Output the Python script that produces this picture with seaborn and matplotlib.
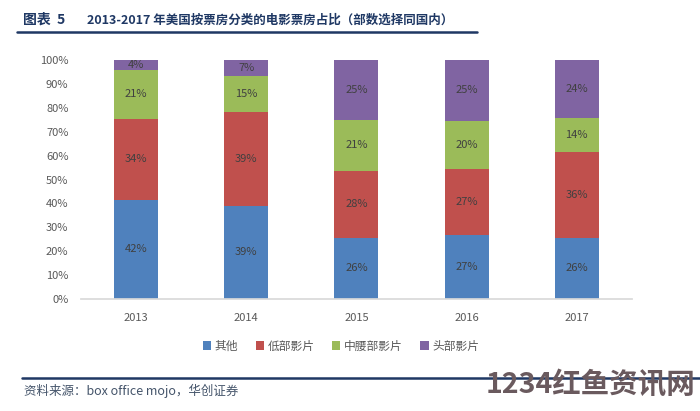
import numpy as np
import pandas as pd
import matplotlib
matplotlib.use("Agg")
import matplotlib.pyplot as plt
import seaborn as sns
from matplotlib.patches import Patch
from matplotlib.lines import Line2D

# data (percent of box office)
years = ["2013", "2014", "2015", "2016", "2017"]
other = [41.6, 39.0, 25.6, 26.8, 25.7]       # 其他
low = [33.8, 39.2, 28.1, 27.4, 35.8]         # 低部影片
mid = [20.6, 15.2, 21.2, 20.4, 14.4]         # 中腰部影片
top = [4.0, 6.6, 25.1, 25.4, 24.1]           # 头部影片
series_names = ["其他", "低部影片", "中腰部影片", "头部影片"]
colors = ["#4F81BD", "#C0504D", "#9BBB59", "#8064A2"]

sns.set_theme(style="white")
plt.rcParams["font.family"] = ["Noto Sans CJK SC", "DejaVu Sans"]

df = pd.DataFrame({"year": years, "其他": other, "低部影片": low,
                   "中腰部影片": mid, "头部影片": top})
cum = df[series_names].cumsum(axis=1)

fig = plt.figure(figsize=(7, 4.11), dpi=100)
ax = fig.add_axes([0.1157, 0.2725, 0.787, 0.5815])

# draw cumulative bars from the top series down so each covers the one above
for name, c in reversed(list(zip(series_names, colors))):
    sns.barplot(x=df["year"], y=cum[name], color=c, width=0.4,
                saturation=1, ax=ax, linewidth=0)

# segment labels
for i in range(len(years)):
    base = 0
    for name in series_names:
        v = df.loc[i, name]
        ax.text(i, base + v / 2, f"{round(v):.0f}%", ha="center", va="center",
                fontsize=8, color="#404040")
        base += v

ax.set_ylim(0, 100)
ax.set_xlim(-0.5, 4.5)
ax.set_yticks(np.arange(0, 101, 10))
ax.set_yticklabels([f"{t}%" for t in range(0, 101, 10)])
ax.set_xlabel("")
ax.set_ylabel("")
ax.tick_params(axis="both", length=0, labelsize=8, labelcolor="#595959")
ax.tick_params(axis="x", pad=10)
ax.tick_params(axis="y", pad=9)
sns.despine(ax=ax, left=True)
ax.spines["bottom"].set_color("#D9D9D9")

handles = [Patch(facecolor=c, edgecolor="none") for c in colors]
fig.legend(handles, series_names, loc="center", bbox_to_anchor=(0.487, 0.158),
           ncol=4, frameon=False, fontsize=8.5, handlelength=0.7, handleheight=0.7,
           handletextpad=0.3, columnspacing=1.5, labelcolor="#595959")

# title and footer
navy = "#1F3864"
fig.text(0.033, 0.952, "图表  5", fontsize=10, fontweight="bold", color=navy, va="center")
fig.text(0.124, 0.952, "2013-2017 年美国按票房分类的电影票房占比（部数选择同国内）",
         fontsize=9, fontweight="bold", color=navy, va="center")
fig.add_artist(Line2D([0.024, 0.682], [0.922, 0.922], color=navy, lw=1.8))
fig.add_artist(Line2D([0.031, 1.0], [0.080, 0.080], color=navy, lw=1.8))
fig.text(0.034, 0.048, "资料来源：box office mojo，华创证券", fontsize=9,
         style="italic", color="#44546A", va="center")
fig.text(0.993, 0.062, "1234红鱼资讯网", fontsize=20.5, fontweight="heavy",
         color="#6A5A5E", ha="right", va="center")

fig.savefig("out.png", dpi=100, facecolor="white")
